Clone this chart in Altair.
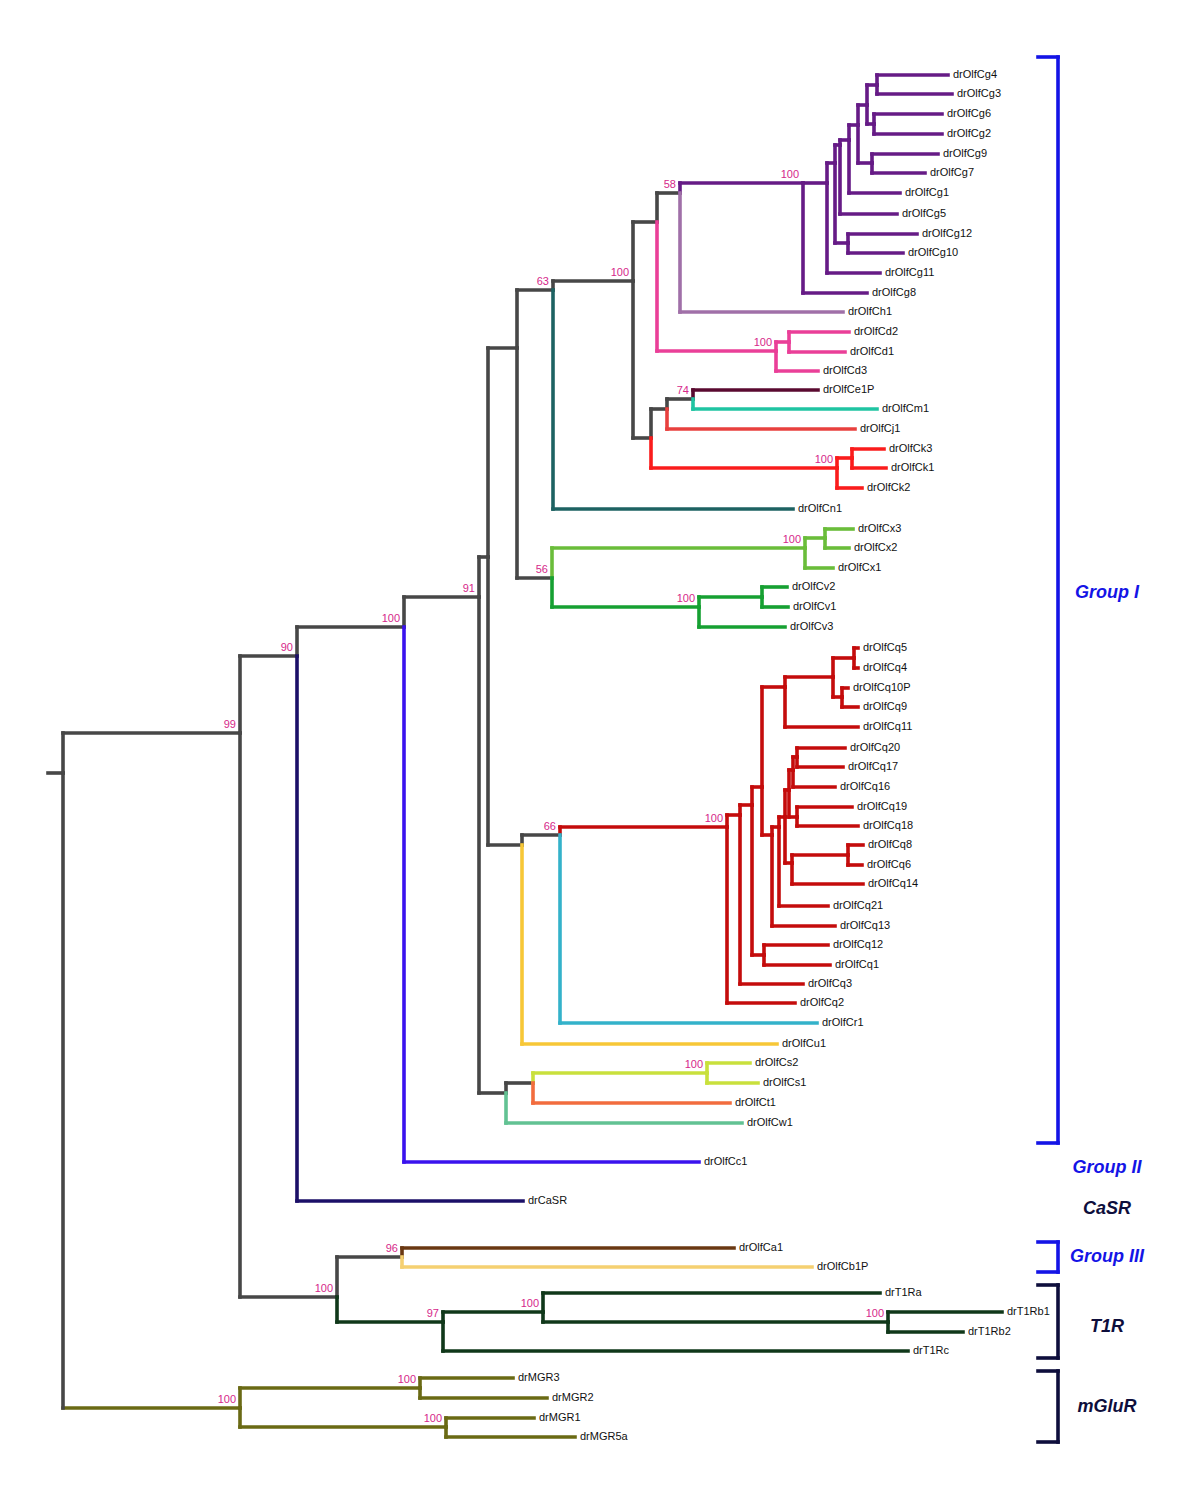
import altair as alt
import pandas as pd

# ---------------- colours of the clades ----------------
GREY = "#474747"; PURPLE = "#661b86"; MAUVE = "#a070a8"; PINK = "#ea3f98"
MAROON = "#5a0a30"; TEAL = "#1fc4a2"; LRED = "#e8403e"; RED = "#fa1c1c"
DTEAL = "#1d6262"; LGREEN = "#6abd3a"; GREEN = "#16a032"; DRED = "#c40c0c"
CYAN = "#33b2ca"; YELLOW = "#f7c737"; LIME = "#c9e03c"; ORANGE = "#f26c3e"
SEA = "#62c293"; BLUE = "#3a12ee"; NAVY = "#1c1068"; BROWN = "#6a3812"
TAN = "#f5d071"; DGREEN = "#10381a"; OLIVE = "#6a6a14"
GBLUE = "#1414e6"; GNAVY = "#0e0e3c"; SUPPORT = "#d6288a"

# ---------------- internal nodes (tree layout units) ----------------
node_id = ["base", "root", "n99", "mg", "mgA", "mgB", "n90", "t100", "n96", "n97",
           "t1a", "t1b", "g100", "n91", "ny", "nstw", "nst", "ncs", "nx", "nu",
           "n66", "qL", "qK", "qJ", "qI", "qH", "qG", "q54", "q109", "qE",
           "qD", "qC", "qA", "q16", "q2017", "q1918", "qB", "q86", "q121", "n63",
           "n56", "ncx", "ncx32", "ncv", "ncv21", "ni", "nh", "nj", "n58", "ncd",
           "ncd21", "nk", "n74", "nck", "nck31", "ng", "nf", "ne", "nd", "nc",
           "nb", "na", "n43", "n62", "n97g", "n1210"]
node_parent = ["", "base", "root", "root", "mg", "mg", "n99", "n99", "t100", "t100",
               "n97", "t1a", "n90", "g100", "n91", "n91", "nstw", "nst", "ny", "ny",
               "nu", "n66", "qL", "qK", "qJ", "qI", "qH", "qG", "qG", "qI",
               "qE", "qD", "qC", "qA", "q16", "qA", "qC", "qB", "qJ", "nx",
               "nx", "n56", "ncx", "n56", "ncv", "n63", "ni", "ni", "nh", "nh",
               "ncd", "nj", "nk", "nj", "nck", "n58", "ng", "nf", "ne", "nd",
               "nc", "nb", "na", "na", "nb", "ne"]
node_x = [48, 63, 240, 240, 420, 446, 297, 337, 402, 443,
          543, 888, 404, 479, 488, 506, 533, 707, 517, 522,
          560, 727, 740, 752, 762, 785, 833, 854, 842, 772,
          779, 785, 789, 793, 797, 797, 792, 848, 764, 553,
          552, 805, 825, 699, 762, 633, 657, 651, 680, 776,
          789, 667, 693, 837, 852, 803, 827, 835, 840, 849,
          858, 867, 877, 874, 872, 848]
node_y = [773, 773, 733, 1408, 1388, 1427, 656, 1297, 1257, 1322,
          1312, 1322, 627, 597, 557, 1093, 1083, 1073, 348, 845,
          835, 827, 815, 805, 787, 687, 677, 658, 697, 835,
          827, 817, 790, 770, 757, 817, 863, 855, 955, 290,
          578, 548, 538, 607, 597, 281, 222, 438, 193, 351,
          342, 409, 399, 468, 458, 183, 183, 163, 145, 140,
          125, 105, 85, 124, 163, 243]
node_color = [GREY, GREY, GREY, OLIVE, OLIVE, OLIVE, GREY, GREY, GREY, DGREEN,
              DGREEN, DGREEN, GREY, GREY, GREY, GREY, GREY, LIME, GREY, GREY,
              GREY, DRED, DRED, DRED, DRED, DRED, DRED, DRED, DRED, DRED,
              DRED, DRED, DRED, DRED, DRED, DRED, DRED, DRED, DRED, GREY,
              GREY, LGREEN, LGREEN, GREEN, GREEN, GREY, GREY, GREY, GREY, PINK,
              PINK, GREY, GREY, RED, RED, PURPLE, PURPLE, PURPLE, PURPLE, PURPLE,
              PURPLE, PURPLE, PURPLE, PURPLE, PURPLE, PURPLE]
node_support = ["", "", "99", "100", "100", "100", "90", "100", "96", "97",
                "100", "100", "100", "91", "", "", "", "100", "", "",
                "66", "100", "", "", "", "", "", "", "", "",
                "", "", "", "", "", "", "", "", "", "63",
                "56", "100", "", "100", "", "100", "", "", "58", "100",
                "", "", "74", "100", "", "100", "", "", "", "",
                "", "", "", "", "", ""]

# ---------------- leaves ----------------
leaf_name = ["drOlfCg4", "drOlfCg3", "drOlfCg6", "drOlfCg2", "drOlfCg9", "drOlfCg7",
             "drOlfCg1", "drOlfCg5", "drOlfCg12", "drOlfCg10", "drOlfCg11", "drOlfCg8",
             "drOlfCh1", "drOlfCd2", "drOlfCd1", "drOlfCd3", "drOlfCe1P", "drOlfCm1",
             "drOlfCj1", "drOlfCk3", "drOlfCk1", "drOlfCk2", "drOlfCn1", "drOlfCx3",
             "drOlfCx2", "drOlfCx1", "drOlfCv2", "drOlfCv1", "drOlfCv3", "drOlfCq5",
             "drOlfCq4", "drOlfCq10P", "drOlfCq9", "drOlfCq11", "drOlfCq20", "drOlfCq17",
             "drOlfCq16", "drOlfCq19", "drOlfCq18", "drOlfCq8", "drOlfCq6", "drOlfCq14",
             "drOlfCq21", "drOlfCq13", "drOlfCq12", "drOlfCq1", "drOlfCq3", "drOlfCq2",
             "drOlfCr1", "drOlfCu1", "drOlfCs2", "drOlfCs1", "drOlfCt1", "drOlfCw1",
             "drOlfCc1", "drCaSR", "drOlfCa1", "drOlfCb1P", "drT1Ra", "drT1Rb1",
             "drT1Rb2", "drT1Rc", "drMGR3", "drMGR2", "drMGR1", "drMGR5a"]
leaf_parent = ["n43", "n43", "n62", "n62", "n97g", "n97g",
               "nc", "nd", "n1210", "n1210", "nf", "ng",
               "n58", "ncd21", "ncd21", "ncd", "n74", "n74",
               "nk", "nck31", "nck31", "nck", "n63", "ncx32",
               "ncx32", "ncx", "ncv21", "ncv21", "ncv", "q54",
               "q54", "q109", "q109", "qH", "q2017", "q2017",
               "q16", "q1918", "q1918", "q86", "q86", "qB",
               "qD", "qE", "q121", "q121", "qK", "qL",
               "n66", "nu", "ncs", "ncs", "nst", "nstw",
               "g100", "n90", "n96", "n96", "t1a", "t1b",
               "t1b", "n97", "mgA", "mgA", "mgB", "mgB"]
leaf_x = [948, 952, 942, 942, 938, 925,
          900, 897, 917, 903, 880, 867,
          843, 849, 845, 818, 818, 877,
          855, 884, 886, 862, 793, 853,
          849, 833, 787, 788, 785, 858,
          858, 848, 858, 858, 845, 843,
          835, 852, 858, 863, 862, 863,
          828, 835, 828, 830, 803, 795,
          817, 777, 750, 758, 730, 742,
          699, 523, 734, 812, 880, 1002,
          963, 908, 513, 547, 534, 575]
leaf_y = [75, 94, 114, 134, 154, 173,
          193, 214, 234, 253, 273, 293,
          312, 332, 352, 371, 390, 409,
          429, 449, 468, 488, 509, 529,
          548, 568, 587, 607, 627, 648,
          668, 688, 707, 727, 748, 767,
          787, 807, 826, 845, 865, 884,
          906, 926, 945, 965, 984, 1003,
          1023, 1044, 1063, 1083, 1103, 1123,
          1162, 1201, 1248, 1267, 1293, 1312,
          1332, 1351, 1378, 1398, 1418, 1437]
leaf_color = [PURPLE] * 12 + [MAUVE, PINK, PINK, PINK, MAROON, TEAL, LRED, RED, RED, RED,
              DTEAL, LGREEN, LGREEN, LGREEN, GREEN, GREEN, GREEN] + [DRED] * 19 + \
             [CYAN, YELLOW, LIME, LIME, ORANGE, SEA, BLUE, NAVY, BROWN, TAN] + \
             [DGREEN] * 4 + [OLIVE] * 4

# ---------------- group brackets on the right ----------------
group_name = ["Group I", "Group II", "CaSR", "Group III", "T1R", "mGluR"]
group_label_y = [593, 1168, 1209, 1257, 1327, 1407]
group_top = [57, None, None, 1242, 1285, 1371]
group_bottom = [1143, None, None, 1272, 1358, 1442]
group_color = [GBLUE, GBLUE, GNAVY, GBLUE, GNAVY, GNAVY]
BR_X, BR_TICK = 1058, 1038
LABEL_X = 1107

# ---------------- build tables ----------------
pos = {n: (x, y) for n, x, y in zip(node_id, node_x, node_y)}
segs = []
def add_branch(parent, x, y, color):
    px, py = pos[parent]
    segs.append(dict(x=px, x2=x, y=y, y2=y, color=color))
    if py != y:
        vcol = GREY if parent == "root" else color
        segs.append(dict(x=px, x2=px, y=py, y2=y, color=vcol))

for n, p, x, y, c in zip(node_id, node_parent, node_x, node_y, node_color):
    if p:
        add_branch(p, x, y, c)
for n, p, x, y, c in zip(leaf_name, leaf_parent, leaf_x, leaf_y, leaf_color):
    add_branch(p, x, y, c)
seg_df = pd.DataFrame(segs)

br = []
for t, b, c in zip(group_top, group_bottom, group_color):
    if t is None:
        continue
    br.append(dict(x=BR_X, x2=BR_X, y=t, y2=b, color=c))
    br.append(dict(x=BR_TICK, x2=BR_X, y=t, y2=t, color=c))
    br.append(dict(x=BR_TICK, x2=BR_X, y=b, y2=b, color=c))
br_df = pd.DataFrame(br)

leaf_df = pd.DataFrame(dict(name=leaf_name, x=leaf_x, y=leaf_y))
sup_df = pd.DataFrame(dict(s=node_support, x=node_x, y=node_y))
sup_df = sup_df[sup_df.s != ""]
grp_df = pd.DataFrame(dict(name=group_name, y=group_label_y, color=group_color,
                           x=[LABEL_X] * len(group_name)))

W, H = 1184, 1484
xs = alt.Scale(domain=[8, 8 + W], nice=False, zero=False)
ys = alt.Scale(domain=[8, 8 + H], nice=False, zero=False, reverse=True)
X = lambda f="x": alt.X(f + ":Q", scale=xs, axis=None)
Y = lambda f="y": alt.Y(f + ":Q", scale=ys, axis=None)

branches = alt.Chart(seg_df).mark_rule(strokeWidth=3.6, strokeCap="square").encode(
    x=X(), x2="x2:Q", y=Y(), y2="y2:Q", color=alt.Color("color:N", scale=None))
brackets = alt.Chart(br_df).mark_rule(strokeWidth=3.6, strokeCap="square").encode(
    x=X(), x2="x2:Q", y=Y(), y2="y2:Q", color=alt.Color("color:N", scale=None))
leaves = alt.Chart(leaf_df).mark_text(
    align="left", baseline="middle", dx=5, fontSize=11, font="Liberation Sans",
    color="#111111").encode(x=X(), y=Y(), text="name:N")
support = alt.Chart(sup_df).mark_text(
    align="right", baseline="alphabetic", dx=-4, dy=-5, fontSize=11,
    font="Liberation Sans", color=SUPPORT).encode(x=X(), y=Y(), text="s:N")
groups = alt.Chart(grp_df).mark_text(
    align="center", baseline="middle", fontSize=18, font="Liberation Sans",
    fontWeight="bold", fontStyle="italic").encode(
    x=X(), y=Y(), text="name:N", color=alt.Color("color:N", scale=None))

chart = alt.layer(branches, brackets, leaves, support, groups).properties(
    width=W, height=H, padding=0, autosize=alt.AutoSizeParams(type="none")
).configure_view(stroke=None)

chart.save("out.html", embed_options={"renderer": "svg", "actions": False})
